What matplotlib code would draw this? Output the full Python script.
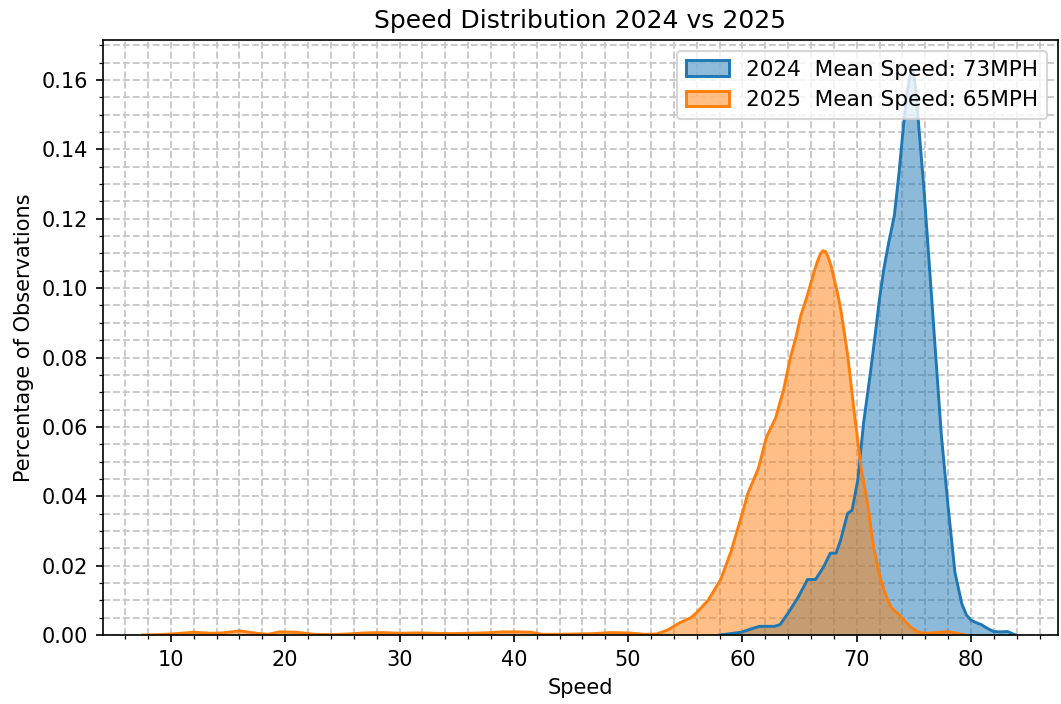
import matplotlib.pyplot as plt
from matplotlib.patches import Patch
from matplotlib.ticker import MultipleLocator

# density curves for each year (speed in MPH, density)
speed_2024 = [58.0, 59.9, 61.0, 61.5, 62.8, 63.3, 64.0, 64.9, 65.7, 66.4, 67.1,
              67.7, 68.2, 68.6, 69.2, 69.6, 70.1, 70.6, 71.2, 71.6, 72.0, 72.4,
              72.8, 73.3, 73.7, 74.1, 74.4, 74.6, 74.8, 75.0, 75.2, 75.4, 75.6,
              75.9, 76.2, 76.5, 76.8, 77.4, 78.0, 78.6, 79.2, 79.6, 80.0, 80.5,
              80.9, 81.5, 82.0, 82.6, 83.2, 83.9]
dens_2024 = [0, 0.0008, 0.002, 0.0025, 0.0025, 0.003, 0.0063, 0.011, 0.016,
             0.016, 0.0196, 0.0236, 0.0236, 0.0274, 0.035, 0.036, 0.0447, 0.061,
             0.0755, 0.086, 0.097, 0.106, 0.113, 0.121, 0.133, 0.147, 0.156,
             0.160, 0.163, 0.162, 0.156, 0.148, 0.140, 0.128, 0.114, 0.100,
             0.086, 0.058, 0.037, 0.018, 0.009, 0.0058, 0.0043, 0.0035, 0.003,
             0.0018, 0.001, 0.0009, 0.001, 0]

speed_2025 = [7.5, 9, 10.5, 12, 13.5, 14.5, 16, 17.5, 18.5, 19.5, 21, 22.5, 24,
              25.5, 27, 28.5, 30, 31.5, 33, 34.5, 36, 37.5, 39, 40.5, 41.5, 42.5,
              44, 45.5, 47, 48.5, 50, 51.5, 52.5, 53.5, 54.5, 55.5, 56.1, 57.0,
              58.1, 59.0, 59.9, 60.5, 61.4, 62.1, 62.9, 63.6, 64.2, 64.7, 65.1,
              65.6, 66.0, 66.3, 66.6, 66.85, 67.05, 67.3, 67.5, 67.8, 68.0, 68.3,
              68.6, 69.2, 69.8, 70.4, 71.0, 71.5, 72.1, 72.6, 73.0, 73.9, 74.7,
              75.3, 75.9, 77.0, 78.0, 79.5]
dens_2025 = [0, 0.0001, 0.0004, 0.0008, 0.0005, 0.0006, 0.0012, 0.0005, 0.0002,
             0.0009, 0.0008, 0.0002, 0.0001, 0.0003, 0.0006, 0.0007, 0.0005,
             0.0006, 0.0005, 0.0004, 0.0005, 0.0006, 0.0009, 0.0009, 0.0008,
             0.0002, 0.0002, 0.0003, 0.0004, 0.0007, 0.0006, 0.0002, 0.0003,
             0.0015, 0.0035, 0.005, 0.0068, 0.010, 0.016, 0.024, 0.034, 0.041,
             0.048, 0.057, 0.0625, 0.0706, 0.080, 0.086, 0.092, 0.097, 0.1015,
             0.105, 0.108, 0.110, 0.1108, 0.1105, 0.109, 0.106, 0.103, 0.099,
             0.094, 0.081, 0.064, 0.048, 0.037, 0.025, 0.016, 0.011, 0.008,
             0.0052, 0.0023, 0.001, 0.0005, 0.0007, 0.001, 0]

mean_2024 = 73
mean_2025 = 65

fig = plt.figure(figsize=(1061 / 150, 704 / 150), dpi=150)
ax = fig.add_axes([0.097, 0.098, 0.9, 0.845])

ax.fill_between(speed_2024, dens_2024, color='C0', alpha=0.5, linewidth=0)
ax.plot(speed_2024, dens_2024, color='C0', lw=1.4)
ax.fill_between(speed_2025, dens_2025, color='C1', alpha=0.5, linewidth=0)
ax.plot(speed_2025, dens_2025, color='C1', lw=1.4)

# legend patches with outline like seaborn kde fills
handles = [
    Patch(facecolor=(0.12, 0.47, 0.71, 0.5), edgecolor='C0', lw=1.4,
          label=f'2024  Mean Speed: {mean_2024}MPH'),
    Patch(facecolor=(1.0, 0.5, 0.05, 0.5), edgecolor='C1', lw=1.4,
          label=f'2025  Mean Speed: {mean_2025}MPH'),
]
ax.legend(handles=handles, loc='upper right', fontsize=10.4)

ax.set_xlim(4.05, 87.6)
ax.set_ylim(0, 0.1715)
ax.xaxis.set_major_locator(MultipleLocator(10))
ax.xaxis.set_minor_locator(MultipleLocator(2))
ax.yaxis.set_major_locator(MultipleLocator(0.02))
ax.yaxis.set_minor_locator(MultipleLocator(0.005))
ax.grid(True, which='both', linestyle='--', color='#c8c8c8', lw=0.9)
ax.set_axisbelow(True)

ax.set_title('Speed Distribution 2024 vs 2025', fontsize=12)
ax.set_xlabel('Speed')
ax.set_ylabel('Percentage of Observations')

fig.savefig('out.png', dpi=150)
